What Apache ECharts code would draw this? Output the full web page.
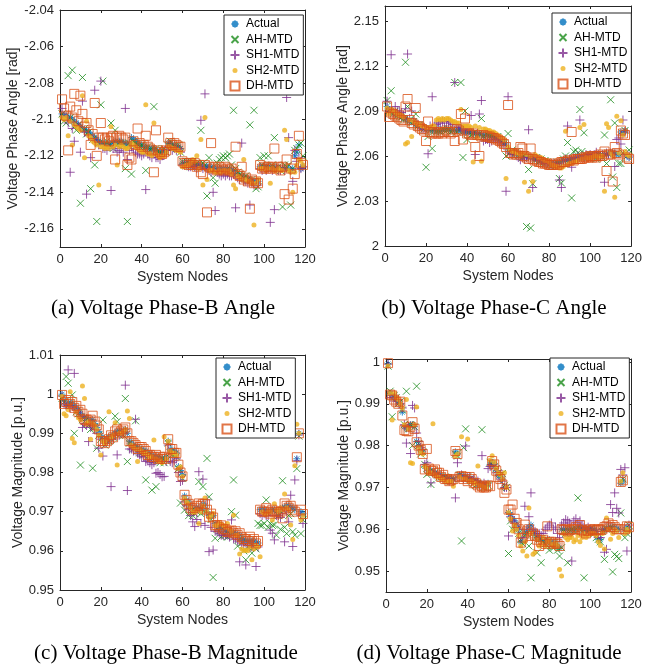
<!DOCTYPE html>
<html>
<head>
<meta charset="utf-8">
<script src="https://cdn.jsdelivr.net/npm/echarts@6/dist/echarts.min.js"></script>
<style>
  html, body { margin: 0; padding: 0; background: #fff; }
  #view1 { width: 645px; height: 667px; }
</style>
</head>
<body>
<div id="view1"></div>
<script>
var nodes = [1,2,3,4,5,6,7,8,9,10,11,12,13,14,15,16,17,18,19,20,
  21,22,23,24,25,26,27,28,29,30,31,32,33,34,35,36,37,38,39,40,
  41,42,43,44,45,46,47,48,49,50,51,52,53,54,55,56,57,58,59,60,
  61,62,63,64,65,66,67,68,69,70,71,72,73,74,75,76,77,78,79,80,
  81,82,83,84,85,86,87,88,89,90,91,92,93,94,95,96,97,98,99,100,
  101,102,103,104,105,106,107,108,109,110,111,112,113,114,115,116,117,118,119];

var names = ["Actual", "AH-MTD", "SH1-MTD", "SH2-MTD", "DH-MTD"];
var xTicks = [0, 20, 40, 60, 80, 100, 120];

// (a) phase-B angle [rad]
var aTicks = [-2.16, -2.14, -2.12, -2.1, -2.08, -2.06, -2.04];
var aActual = [-2.097,-2.098,-2.098,-2.099,-2.099,-2.100,-2.101,-2.102,-2.103,-2.104,
  -2.105,-2.106,-2.106,-2.107,-2.108,-2.109,-2.110,-2.111,-2.112,-2.113,
  -2.113,-2.113,-2.114,-2.113,-2.114,-2.113,-2.112,-2.113,-2.112,-2.112,
  -2.113,-2.113,-2.114,-2.113,-2.110,-2.111,-2.112,-2.113,-2.114,-2.114,
  -2.115,-2.115,-2.116,-2.116,-2.116,-2.116,-2.117,-2.118,-2.118,-2.118,
  -2.118,-2.117,-2.113,-2.113,-2.114,-2.114,-2.115,-2.115,-2.116,-2.124,
  -2.124,-2.124,-2.124,-2.125,-2.124,-2.124,-2.125,-2.125,-2.125,-2.126,
  -2.126,-2.126,-2.126,-2.126,-2.127,-2.127,-2.127,-2.127,-2.127,-2.127,
  -2.127,-2.127,-2.127,-2.128,-2.128,-2.130,-2.130,-2.131,-2.131,-2.132,
  -2.132,-2.133,-2.133,-2.134,-2.134,-2.134,-2.134,-2.126,-2.126,-2.126,
  -2.126,-2.126,-2.126,-2.127,-2.127,-2.126,-2.127,-2.127,-2.127,-2.127,
  -2.127,-2.127,-2.128,-2.127,-2.120,-2.118,-2.114,-2.127,-2.126];
var aAH = [-2.097,-2.101,-2.102,-2.076,-2.099,-2.073,-2.104,-2.106,-2.103,-2.146,
  -2.077,-2.105,-2.108,-2.107,-2.138,-2.111,-2.125,-2.156,-2.113,-2.092,
  -2.079,-2.114,-2.112,-2.114,-2.102,-2.116,-2.106,-2.114,-2.113,-2.113,
  -2.114,-2.127,-2.156,-2.113,-2.130,-2.112,-2.113,-2.114,-2.115,-2.114,
  -2.116,-2.128,-2.115,-2.117,-2.116,-2.093,-2.116,-2.117,-2.119,-2.117,
  -2.116,-2.118,-2.114,-2.112,-2.115,-2.115,-2.116,-2.114,-2.118,-2.123,
  -2.125,-2.123,-2.124,-2.126,-2.123,-2.125,-2.124,-2.126,-2.106,-2.124,
  -2.125,-2.142,-2.121,-2.127,-2.132,-2.135,-2.124,-2.122,-2.121,-2.120,
  -2.121,-2.120,-2.119,-2.125,-2.095,-2.127,-2.129,-2.130,-2.131,-2.132,
  -2.131,-2.133,-2.103,-2.133,-2.095,-2.138,-2.137,-2.121,-2.125,-2.120,
  -2.126,-2.120,-2.127,-2.125,-2.110,-2.127,-2.126,-2.128,-2.148,-2.125,
  -2.126,-2.125,-2.147,-2.127,-2.117,-2.116,-2.114,-2.113,-2.120];
var aSH1 = [-2.094,-2.098,-2.099,-2.102,-2.129,-2.105,-2.112,-2.103,-2.104,-2.118,
  -2.090,-2.107,-2.141,-2.109,-2.121,-2.111,-2.084,-2.112,-2.114,-2.079,
  -2.116,-2.116,-2.117,-2.115,-2.139,-2.116,-2.115,-2.118,-2.117,-2.116,
  -2.118,-2.094,-2.122,-2.117,-2.115,-2.116,-2.118,-2.119,-2.119,-2.120,
  -2.119,-2.1385,-2.119,-2.120,-2.121,-2.119,-2.121,-2.121,-2.122,-2.120,
  -2.119,-2.117,-2.115,-2.115,-2.117,-2.116,-2.117,-2.116,-2.118,-2.125,
  -2.125,-2.125,-2.126,-2.126,-2.125,-2.126,-2.127,-2.126,-2.1005,-2.127,
  -2.086,-2.127,-2.128,-2.129,-2.140,-2.150,-2.129,-2.130,-2.131,-2.130,
  -2.131,-2.130,-2.131,-2.131,-2.130,-2.1485,-2.132,-2.133,-2.113,-2.134,
  -2.134,-2.135,-2.147,-2.135,-2.136,-2.135,-2.136,-2.127,-2.128,-2.127,
  -2.128,-2.127,-2.1565,-2.128,-2.1495,-2.127,-2.128,-2.128,-2.127,-2.128,
  -2.088,-2.110,-2.128,-2.134,-2.117,-2.123,-2.121,-2.127,-2.126];
var aSH2 = [-2.099,-2.100,-2.099,-2.109,-2.101,-2.114,-2.103,-2.104,-2.105,-2.106,
  -2.087,-2.121,-2.101,-2.109,-2.110,-2.112,-2.113,-2.114,-2.136,-2.115,
  -2.115,-2.116,-2.115,-2.116,-2.104,-2.115,-2.114,-2.125,-2.115,-2.114,
  -2.115,-2.116,-2.116,-2.115,-2.113,-2.114,-2.115,-2.116,-2.117,-2.118,
  -2.118,-2.092,-2.119,-2.119,-2.120,-2.102,-2.119,-2.120,-2.121,-2.120,
  -2.120,-2.118,-2.115,-2.115,-2.116,-2.116,-2.117,-2.117,-2.118,-2.126,
  -2.126,-2.125,-2.125,-2.124,-2.122,-2.123,-2.120,-2.127,-2.111,-2.136,
  -2.099,-2.133,-2.128,-2.128,-2.128,-2.129,-2.129,-2.128,-2.129,-2.128,
  -2.128,-2.129,-2.128,-2.130,-2.136,-2.138,-2.131,-2.132,-2.133,-2.122,
  -2.133,-2.134,-2.134,-2.135,-2.158,-2.135,-2.133,-2.127,-2.127,-2.127,
  -2.128,-2.127,-2.135,-2.127,-2.128,-2.128,-2.127,-2.128,-2.128,-2.106,
  -2.111,-2.128,-2.129,-2.140,-2.129,-2.125,-2.122,-2.123,-2.125];
var aDH = [-2.089,-2.094,-2.098,-2.117,-2.093,-2.099,-2.086,-2.095,-2.101,-2.087,
  -2.097,-2.104,-2.102,-2.106,-2.114,-2.108,-2.091,-2.120,-2.110,-2.102,
  -2.110,-2.111,-2.110,-2.112,-2.110,-2.109,-2.122,-2.110,-2.109,-2.110,
  -2.111,-2.110,-2.125,-2.121,-2.122,-2.112,-2.114,-2.105,-2.113,-2.115,
  -2.114,-2.109,-2.115,-2.116,-2.117,-2.129,-2.106,-2.117,-2.118,-2.119,
  -2.118,-2.117,-2.110,-2.113,-2.114,-2.113,-2.114,-2.115,-2.115,-2.123,
  -2.124,-2.124,-2.125,-2.124,-2.125,-2.124,-2.126,-2.125,-2.129,-2.130,
  -2.125,-2.151,-2.126,-2.113,-2.127,-2.126,-2.128,-2.126,-2.127,-2.128,
  -2.126,-2.127,-2.128,-2.127,-2.129,-2.115,-2.130,-2.131,-2.126,-2.133,
  -2.132,-2.134,-2.149,-2.133,-2.135,-2.134,-2.135,-2.125,-2.127,-2.126,
  -2.127,-2.126,-2.127,-2.126,-2.116,-2.127,-2.126,-2.128,-2.126,-2.141,
  -2.122,-2.144,-2.127,-2.138,-2.130,-2.119,-2.109,-2.124,-2.125];

// (b) phase-C angle [rad]
var bTicks = [2, 2.03, 2.06, 2.09, 2.12, 2.15];
var bActual = [2.093,2.091,2.090,2.089,2.088,2.088,2.087,2.086,2.085,2.085,
  2.084,2.083,2.083,2.082,2.081,2.080,2.080,2.079,2.079,2.078,
  2.078,2.078,2.077,2.077,2.077,2.076,2.077,2.077,2.078,2.078,
  2.078,2.077,2.077,2.077,2.077,2.078,2.077,2.076,2.076,2.076,
  2.076,2.076,2.075,2.075,2.075,2.075,2.074,2.074,2.074,2.074,
  2.074,2.073,2.073,2.073,2.072,2.071,2.070,2.069,2.068,2.064,
  2.063,2.063,2.062,2.062,2.061,2.061,2.060,2.060,2.060,2.059,
  2.059,2.059,2.058,2.058,2.057,2.057,2.056,2.056,2.056,2.055,
  2.055,2.055,2.055,2.055,2.056,2.056,2.057,2.057,2.057,2.058,
  2.058,2.058,2.058,2.059,2.059,2.059,2.059,2.060,2.060,2.060,
  2.060,2.060,2.060,2.061,2.060,2.061,2.061,2.061,2.061,2.062,
  2.062,2.062,2.061,2.061,2.076,2.075,2.077,2.060,2.059];
var bAH = [2.097,2.090,2.1035,2.088,2.090,2.087,2.086,2.086,2.084,2.1225,
  2.093,2.084,2.082,2.083,2.088,2.080,2.081,2.079,2.078,2.0525,
  2.073,2.077,2.065,2.078,2.076,2.077,2.076,2.078,2.077,2.077,
  2.078,2.076,2.077,2.109,2.076,2.077,2.109,2.059,2.090,2.071,
  2.076,2.074,2.075,2.076,2.074,2.075,2.085,2.073,2.072,2.074,
  2.073,2.074,2.072,2.072,2.073,2.071,2.069,2.068,2.060,2.075,
  2.062,2.064,2.061,2.063,2.060,2.061,2.059,2.061,2.013,2.051,
  2.012,2.0415,2.057,2.059,2.056,2.058,2.055,2.057,2.056,2.054,
  2.053,2.054,2.053,2.056,2.045,2.042,2.058,2.060,2.069,2.057,
  2.032,2.063,2.064,2.062,2.091,2.063,2.0755,2.061,2.059,2.061,
  2.059,2.060,2.058,2.061,2.061,2.059,2.074,2.055,2.062,2.0975,
  2.046,2.082,2.039,2.055,2.055,2.062,2.077,2.060,2.064];
var bSH1 = [2.0965,2.090,2.1275,2.089,2.093,2.090,2.090,2.089,2.087,2.0915,
  2.128,2.085,2.090,2.083,2.082,2.081,2.080,2.078,2.078,2.078,
  2.0615,2.080,2.0995,2.080,2.081,2.082,2.082,2.083,2.083,2.082,
  2.083,2.082,2.081,2.109,2.080,2.079,2.079,2.078,2.077,2.078,
  2.077,2.087,2.076,2.061,2.075,2.088,2.097,2.070,2.071,2.071,
  2.069,2.070,2.072,2.071,2.070,2.069,2.068,2.067,2.0365,2.0995,
  2.062,2.061,2.062,2.061,2.059,2.0575,2.059,2.058,2.059,2.0775,
  2.058,2.039,2.059,2.057,2.058,2.057,2.056,2.055,2.055,2.055,
  2.054,2.055,2.054,2.055,2.044,2.039,2.057,2.058,2.080,2.058,
  2.0525,2.059,2.058,2.060,2.084,2.060,2.059,2.061,2.060,2.061,
  2.060,2.061,2.0625,2.061,2.060,2.061,2.0425,2.062,2.061,2.062,
  2.061,2.053,2.071,2.072,2.068,2.084,2.076,2.061,2.060];
var bSH2 = [2.092,2.088,2.091,2.090,2.089,2.088,2.087,2.087,2.086,2.068,
  2.069,2.084,2.073,2.083,2.082,2.081,2.081,2.080,2.080,2.079,
  2.079,2.079,2.080,2.080,2.084,2.085,2.084,2.085,2.084,2.085,
  2.085,2.084,2.083,2.083,2.082,2.082,2.091,2.080,2.080,2.080,
  2.080,2.079,2.056,2.080,2.072,2.079,2.0565,2.078,2.078,2.077,
  2.077,2.076,2.076,2.075,2.074,2.073,2.072,2.071,2.045,2.066,
  2.064,2.063,2.063,2.062,2.062,2.061,2.062,2.0425,2.061,2.0365,
  2.060,2.043,2.061,2.060,2.059,2.059,2.058,2.057,2.057,2.056,
  2.054,2.054,2.053,2.053,2.052,2.052,2.053,2.0765,2.054,2.055,
  2.055,2.056,2.056,2.057,2.079,2.058,2.081,2.059,2.058,2.059,
  2.059,2.060,2.060,2.059,2.060,2.060,2.0365,2.0815,2.079,2.062,
  2.060,2.0325,2.0865,2.062,2.0835,2.074,2.063,2.061,2.060];
var bDH = [2.093,2.086,2.089,2.088,2.087,2.086,2.085,2.084,2.083,2.093,
  2.098,2.084,2.082,2.081,2.092,2.080,2.079,2.078,2.077,2.070,
  2.083,2.076,2.075,2.076,2.075,2.075,2.076,2.075,2.076,2.077,
  2.076,2.075,2.076,2.070,2.078,2.077,2.088,2.071,2.085,2.075,
  2.075,2.074,2.075,2.066,2.074,2.060,2.073,2.074,2.073,2.073,
  2.073,2.072,2.072,2.071,2.071,2.070,2.069,2.068,2.066,2.094,
  2.062,2.062,2.061,2.061,2.062,2.066,2.065,2.060,2.059,2.058,
  2.065,2.058,2.057,2.057,2.056,2.056,2.055,2.055,2.055,2.054,
  2.054,2.054,2.055,2.054,2.055,2.056,2.056,2.056,2.057,2.057,
  2.076,2.057,2.058,2.058,2.058,2.058,2.059,2.059,2.059,2.060,
  2.059,2.060,2.059,2.060,2.061,2.060,2.063,2.050,2.061,2.061,
  2.043,2.066,2.062,2.061,2.077,2.075,2.074,2.059,2.058];

// (c) phase-B magnitude [p.u.]
var cTicks = [0.95, 0.96, 0.97, 0.98, 0.99, 1, 1.01];
var cActual = [1.0000,0.9985,0.9975,0.9970,0.9980,0.9975,0.9970,0.9965,0.9960,0.9950,
  0.9945,0.9940,0.9940,0.9935,0.9930,0.9935,0.9925,0.9915,0.9905,0.9895,
  0.9885,0.9880,0.9885,0.9890,0.9890,0.9895,0.9900,0.9905,0.9905,0.9905,
  0.9905,0.9910,0.9900,0.9880,0.9875,0.9870,0.9865,0.9865,0.9860,0.9860,
  0.9855,0.9855,0.9850,0.9845,0.9845,0.9840,0.9840,0.9840,0.9835,0.9835,
  0.9835,0.9840,0.9880,0.9860,0.9855,0.9855,0.9850,0.9815,0.9805,0.9795,
  0.9740,0.9730,0.9725,0.9715,0.9705,0.9705,0.9710,0.9710,0.9705,0.9720,
  0.9715,0.9700,0.9690,0.9690,0.9690,0.9670,0.9665,0.9660,0.9660,0.9655,
  0.9650,0.9650,0.9650,0.9650,0.9645,0.9645,0.9640,0.9640,0.9630,0.9630,
  0.9625,0.9625,0.9625,0.9625,0.9625,0.9620,0.9620,0.9705,0.9705,0.9705,
  0.9700,0.9700,0.9700,0.9705,0.9705,0.9700,0.9700,0.9700,0.9710,0.9710,
  0.9715,0.9715,0.9710,0.9710,0.9705,0.9835,0.9900,0.9700,0.9695];
var cAH = [0.9989,0.9980,1.0045,1.0028,0.9975,0.9998,0.9900,0.9955,0.9950,0.9819,
  0.9935,0.9930,0.9925,0.9920,0.9910,0.9811,0.9915,0.9862,0.9895,0.9885,
  0.9934,0.9870,0.9879,0.9880,0.9885,0.9890,0.9944,0.9930,0.9895,0.9900,
  0.9895,0.9989,0.9828,0.9875,0.9865,0.9860,0.9932,0.9855,0.9850,0.9850,
  0.9845,0.9781,0.9840,0.9835,0.9755,0.9830,0.9764,0.9830,0.9825,0.9836,
  0.9825,0.9830,0.9875,0.9850,0.9845,0.9845,0.9840,0.9810,0.9722,0.9785,
  0.9704,0.9720,0.9690,0.9700,0.9690,0.9695,0.9700,0.9777,0.9695,0.9764,
  0.9700,0.9836,0.9738,0.9680,0.9532,0.9632,0.9655,0.9650,0.9636,0.9640,
  0.9640,0.9635,0.9640,0.9700,0.9781,0.9691,0.9612,0.9630,0.9620,0.9600,
  0.9577,0.9610,0.9610,0.9594,0.9610,0.9605,0.9670,0.9665,0.9665,0.9670,
  0.9730,0.9660,0.9670,0.9665,0.9666,0.9640,0.9690,0.9655,0.9779,0.9660,
  0.9644,0.9690,0.9695,0.9649,0.9640,0.9810,0.9893,0.9644,0.9679];
var cSH1 = [0.9995,0.9975,0.9970,1.0062,0.9965,0.9970,1.0053,0.9960,0.9955,0.9943,
  0.9915,0.9925,0.9920,0.9879,0.9915,0.9920,0.9910,0.9900,0.9862,0.9885,
  0.9842,0.9875,0.9880,0.9885,0.9764,0.9885,0.9895,0.9845,0.9895,0.9900,
  0.9900,1.0023,0.9754,0.9860,0.9860,0.9855,0.9936,0.9850,0.9845,0.9840,
  0.9840,0.9828,0.9830,0.9825,0.9820,0.9825,0.9798,0.9800,0.9795,0.9789,
  0.9790,0.9828,0.9870,0.9828,0.9825,0.9830,0.9835,0.9800,0.9777,0.9780,
  0.9725,0.9715,0.9705,0.9690,0.9674,0.9662,0.9680,0.9802,0.9670,0.9783,
  0.9665,0.9730,0.9598,0.9660,0.9602,0.9650,0.9650,0.9645,0.9640,0.9640,
  0.9640,0.9640,0.9635,0.9679,0.9630,0.9630,0.9625,0.9572,0.9620,0.9615,
  0.9564,0.9615,0.9610,0.9610,0.9610,0.9560,0.9610,0.9695,0.9690,0.9695,
  0.9690,0.9690,0.9653,0.9645,0.9628,0.9690,0.9690,0.9685,0.9695,0.9623,
  0.9700,0.9674,0.9742,0.9611,0.9781,0.9830,0.9896,0.9690,0.9670];
var cSH2 = [0.9995,0.9950,0.9945,0.9960,1.0006,0.9887,0.9876,0.9955,0.9940,0.9935,
  1.0021,0.9989,0.9925,0.9930,0.9885,0.9925,0.9920,0.9910,0.9895,0.9845,
  0.9880,0.9875,0.9885,0.9955,0.9890,0.9895,0.9927,0.9819,0.9900,0.9900,
  0.9905,0.9910,0.9957,0.9938,0.9870,0.9865,0.9860,0.9828,0.9860,0.9855,
  0.9850,0.9850,0.9845,0.9840,0.9840,0.9883,0.9835,0.9830,0.9830,0.9825,
  0.9891,0.9835,0.9880,0.9855,0.9850,0.9850,0.9845,0.9810,0.9815,0.9790,
  0.9735,0.9725,0.9720,0.9710,0.9700,0.9700,0.9705,0.9670,0.9700,0.9715,
  0.9735,0.9700,0.9685,0.9690,0.9696,0.9665,0.9665,0.9670,0.9668,0.9665,
  0.9660,0.9670,0.9655,0.9650,0.9691,0.9640,0.9640,0.9592,0.9605,0.9600,
  0.9602,0.9600,0.9610,0.9577,0.9605,0.9615,0.9610,0.9585,0.9700,0.9695,
  0.9695,0.9700,0.9700,0.9679,0.9720,0.9705,0.9700,0.9710,0.9705,0.9745,
  0.9710,0.9705,0.9666,0.9629,0.9817,0.9923,0.9900,0.9679,0.9690];
var cDH = [0.9998,0.9975,0.9980,0.9985,0.9975,0.9980,0.9965,0.9970,0.9955,0.9960,
  0.9950,0.9935,0.9935,0.9930,0.9935,0.9945,0.9930,0.9920,0.9910,0.9880,
  0.9880,0.9875,0.9880,0.9885,0.9895,0.9890,0.9905,0.9910,0.9900,0.9905,
  0.9910,0.9915,0.9900,0.9880,0.9880,0.9875,0.9870,0.9860,0.9865,0.9865,
  0.9860,0.9855,0.9845,0.9845,0.9840,0.9840,0.9845,0.9835,0.9840,0.9835,
  0.9840,0.9835,0.9885,0.9860,0.9860,0.9850,0.9850,0.9820,0.9800,0.9790,
  0.9743,0.9730,0.9720,0.9710,0.9705,0.9710,0.9715,0.9721,0.9715,0.9720,
  0.9720,0.9705,0.9687,0.9695,0.9685,0.9665,0.9666,0.9660,0.9665,0.9655,
  0.9655,0.9648,0.9650,0.9652,0.9645,0.9650,0.9640,0.9645,0.9635,0.9630,
  0.9630,0.9625,0.9636,0.9625,0.9630,0.9619,0.9625,0.9705,0.9700,0.9700,
  0.9709,0.9700,0.9695,0.9705,0.9700,0.9700,0.9695,0.9700,0.9683,0.9721,
  0.9715,0.9710,0.9715,0.9705,0.9700,0.9839,0.9900,0.9705,0.9694];

// (d) phase-C magnitude [p.u.]
var dTicks = [0.95, 0.96, 0.97, 0.98, 0.99, 1];
var dActual = [0.9995,0.9925,0.9920,0.9915,0.9910,0.9905,0.9900,0.9880,0.9845,0.9840,
  0.9845,0.9850,0.9850,0.9845,0.9810,0.9800,0.9790,0.9785,0.9750,0.9745,
  0.9740,0.9740,0.9735,0.9735,0.9730,0.9730,0.9725,0.9725,0.9725,0.9720,
  0.9720,0.9720,0.9720,0.9785,0.9780,0.9730,0.9730,0.9725,0.9725,0.9720,
  0.9720,0.9720,0.9715,0.9715,0.9710,0.9710,0.9705,0.9705,0.9705,0.9710,
  0.9755,0.9760,0.9755,0.9740,0.9730,0.9725,0.9720,0.9700,0.9700,0.9640,
  0.9635,0.9625,0.9620,0.9610,0.9600,0.9570,0.9570,0.9590,0.9595,0.9605,
  0.9610,0.9595,0.9590,0.9580,0.9580,0.9575,0.9575,0.9570,0.9575,0.9575,
  0.9570,0.9565,0.9570,0.9560,0.9555,0.9600,0.9600,0.9600,0.9600,0.9600,
  0.9600,0.9600,0.9600,0.9605,0.9605,0.9600,0.9600,0.9595,0.9600,0.9600,
  0.9600,0.9600,0.9595,0.9575,0.9575,0.9600,0.9600,0.9600,0.9605,0.9605,
  0.9605,0.9605,0.9600,0.9600,0.9710,0.9715,0.9600,0.9605,0.9600];
var dAH = [0.9990,0.9930,0.9869,0.9920,0.9915,0.9900,0.9905,0.9885,0.9850,0.9930,
  0.9840,0.9850,0.9800,0.9845,0.9942,0.9805,0.9780,0.9785,0.9755,0.9731,
  0.9735,0.9707,0.9740,0.9735,0.9730,0.9725,0.9725,0.9720,0.9725,0.9720,
  0.9715,0.9715,0.9720,0.9780,0.9775,0.9730,0.9572,0.9795,0.9840,0.9725,
  0.9720,0.9715,0.9710,0.9705,0.9710,0.9705,0.9838,0.9700,0.9700,0.9705,
  0.9760,0.9755,0.9750,0.9745,0.9735,0.9730,0.9733,0.9705,0.9700,0.9542,
  0.9620,0.9600,0.9610,0.9600,0.9590,0.9575,0.9565,0.9585,0.9590,0.9560,
  0.9484,0.9590,0.9580,0.9544,0.9575,0.9520,0.9570,0.9565,0.9560,0.9550,
  0.9560,0.9555,0.9560,0.9550,0.9536,0.9556,0.9595,0.9590,0.9520,0.9595,
  0.9600,0.9595,0.9600,0.9675,0.9600,0.9595,0.9484,0.9600,0.9595,0.9600,
  0.9595,0.9590,0.9580,0.9576,0.9570,0.9595,0.9528,0.9600,0.9600,0.9605,
  0.9498,0.9540,0.9535,0.9530,0.9639,0.9720,0.9580,0.9590,0.9610];
var dSH1 = [0.9995,0.9915,0.9920,0.9915,0.9906,0.9910,0.9900,0.9890,0.9850,0.9806,
  0.9845,0.9781,0.9896,0.9890,0.9830,0.9810,0.9795,0.9790,0.9755,0.9759,
  0.9740,0.9711,0.9735,0.9730,0.9730,0.9725,0.9730,0.9720,0.9720,0.9720,
  0.9715,0.9720,0.9715,0.9675,0.9759,0.9725,0.9730,0.9720,0.9799,0.9725,
  0.9725,0.9715,0.9720,0.9710,0.9715,0.9705,0.9776,0.9710,0.9705,0.9745,
  0.9750,0.9755,0.9750,0.9735,0.9740,0.9720,0.9715,0.9700,0.9700,0.9584,
  0.9630,0.9620,0.9615,0.9605,0.9600,0.9580,0.9580,0.9655,0.9600,0.9630,
  0.9687,0.9600,0.9595,0.9590,0.9590,0.9585,0.9590,0.9600,0.9605,0.9610,
  0.9615,0.9600,0.9605,0.9590,0.9580,0.9610,0.9615,0.9623,0.9620,0.9615,
  0.9524,0.9620,0.9625,0.9615,0.9620,0.9610,0.9605,0.9600,0.9605,0.9600,
  0.9595,0.9590,0.9595,0.9580,0.9580,0.9600,0.9545,0.9552,0.9615,0.9659,
  0.9640,0.9687,0.9650,0.9639,0.9743,0.9730,0.9747,0.9548,0.9610];
var dSH2 = [0.9990,0.9925,0.9861,0.9925,0.9915,0.9910,0.9900,0.9890,0.9850,0.9910,
  0.9840,0.9759,0.9757,0.9850,0.9892,0.9795,0.9785,0.9780,0.9750,0.9745,
  0.9735,0.9735,0.9852,0.9730,0.9725,0.9725,0.9720,0.9720,0.9715,0.9715,
  0.9715,0.9715,0.9703,0.9775,0.9780,0.9725,0.9821,0.9720,0.9720,0.9816,
  0.9715,0.9715,0.9710,0.9710,0.9751,0.9705,0.9705,0.9700,0.9700,0.9710,
  0.9765,0.9776,0.9760,0.9745,0.9735,0.9730,0.9720,0.9735,0.9700,0.9640,
  0.9625,0.9596,0.9610,0.9600,0.9585,0.9560,0.9548,0.9570,0.9536,0.9651,
  0.9590,0.9540,0.9545,0.9575,0.9560,0.9565,0.9580,0.9560,0.9570,0.9575,
  0.9565,0.9560,0.9568,0.9560,0.9504,0.9488,0.9590,0.9580,0.9575,0.9580,
  0.9580,0.9570,0.9575,0.9585,0.9570,0.9580,0.9590,0.9580,0.9585,0.9590,
  0.9590,0.9590,0.9585,0.9570,0.9561,0.9590,0.9553,0.9627,0.9600,0.9576,
  0.9590,0.9600,0.9595,0.9580,0.9715,0.9735,0.9590,0.9600,0.9595];
var dDH = [0.9997,0.9922,0.9920,0.9910,0.9905,0.9900,0.9905,0.9872,0.9837,0.9835,
  0.9834,0.9845,0.9856,0.9840,0.9808,0.9800,0.9790,0.9780,0.9743,0.9792,
  0.9745,0.9740,0.9740,0.9743,0.9735,0.9735,0.9725,0.9730,0.9720,0.9720,
  0.9715,0.9718,0.9720,0.9787,0.9780,0.9725,0.9727,0.9720,0.9725,0.9715,
  0.9725,0.9720,0.9710,0.9710,0.9705,0.9700,0.9703,0.9700,0.9700,0.9705,
  0.9703,0.9763,0.9755,0.9740,0.9725,0.9720,0.9707,0.9687,0.9695,0.9647,
  0.9647,0.9659,0.9625,0.9615,0.9600,0.9568,0.9580,0.9611,0.9595,0.9600,
  0.9584,0.9590,0.9585,0.9575,0.9560,0.9570,0.9575,0.9565,0.9607,0.9570,
  0.9570,0.9565,0.9568,0.9565,0.9560,0.9600,0.9598,0.9600,0.9595,0.9598,
  0.9600,0.9600,0.9605,0.9600,0.9610,0.9598,0.9595,0.9590,0.9596,0.9600,
  0.9598,0.9600,0.9597,0.9600,0.9598,0.9600,0.9605,0.9607,0.9614,0.9605,
  0.9610,0.9605,0.9600,0.9600,0.9713,0.9717,0.9600,0.9607,0.9605];

var axisColor = "#262626";
var sansFont = "Liberation Sans";

// marker look per method, same order as names
var markers = [
  { symbol: "path://M5 0V10M0 5H10M1.5 1.5L8.5 8.5M8.5 1.5L1.5 8.5", symbolSize: 7,
    itemStyle: { color: "rgba(0,0,0,0)", borderColor: "#0072BD", borderWidth: 1 } },
  { symbol: "path://M0 0L10 10M10 0L0 10", symbolSize: 7,
    itemStyle: { color: "rgba(0,0,0,0)", borderColor: "#1c8c1c", borderWidth: 1 } },
  { symbol: "path://M5 0V10M0 5H10", symbolSize: 9,
    itemStyle: { color: "rgba(0,0,0,0)", borderColor: "#7E2F8E", borderWidth: 1 } },
  { symbol: "circle", symbolSize: 5,
    itemStyle: { color: "#EDB120", borderWidth: 0 } },
  { symbol: "rect", symbolSize: 9,
    itemStyle: { color: "rgba(0,0,0,0)", borderColor: "#D95319", borderWidth: 1 } }
];

// legend icons: the leading moves pin a 10x10 box so the marks keep their plot size
var legendIcons = [
  "path://M0 0M10 10M5 1.5V8.5M1.5 5H8.5M2.5 2.5L7.5 7.5M7.5 2.5L2.5 7.5",
  "path://M0 0M10 10M1.5 1.5L8.5 8.5M8.5 1.5L1.5 8.5",
  "path://M0 0M10 10M5 0.5V9.5M0.5 5H9.5",
  "path://M0 0M10 10M2.5 5A2.5 2.5 0 1 1 7.5 5A2.5 2.5 0 1 1 2.5 5Z",
  "path://M0 0M10 10M0.5 0.5H9.5V9.5H0.5Z"
];

var panels = [
  { grid: { left: 60, top: 10, width: 245, height: 237 }, min: -2.17, max: -2.04, ticks: aTicks,
    yName: "Voltage Phase Angle [rad]", nameGap: 32, series: [aActual, aAH, aSH1, aSH2, aDH],
    legend: { left: 224, top: 15 }, caption: "(a) Voltage Phase-B Angle", cx: 163, cy: 308 },
  { grid: { left: 385, top: 6, width: 248, height: 240 }, min: 2, max: 2.16, ticks: bTicks,
    yName: "Voltage Phase Angle [rad]", nameGap: 27, series: [bActual, bAH, bSH1, bSH2, bDH],
    legend: { left: 552, top: 13 }, caption: "(b) Voltage Phase-C Angle", cx: 494, cy: 308 },
  { grid: { left: 60, top: 355, width: 245, height: 235 }, min: 0.95, max: 1.01, ticks: cTicks,
    yName: "Voltage Magnitude [p.u.]", nameGap: 34, series: [cActual, cAH, cSH1, cSH2, cDH],
    legend: { left: 216, top: 358 }, caption: "(c) Voltage Phase-B Magnitude", cx: 166, cy: 653 },
  { grid: { left: 386, top: 359, width: 245, height: 233 }, min: 0.945, max: 1.0007, ticks: dTicks,
    yName: "Voltage Magnitude [p.u.]", nameGap: 33, series: [dActual, dAH, dSH1, dSH2, dDH],
    legend: { left: 550, top: 358 }, caption: "(d) Voltage Phase-C Magnitude", cx: 489, cy: 653 }
];

var grid = [], xAxis = [], yAxis = [], series = [], legend = [], graphic = [];

panels.forEach(function (p, i) {
  grid.push(p.grid);
  // bottom + mirrored top
  xAxis.push({
    gridIndex: i, type: "value", min: 0, max: 120, position: "bottom",
    name: "System Nodes", nameLocation: "middle", nameGap: 23,
    nameTextStyle: { color: axisColor, fontSize: 14, fontFamily: sansFont },
    axisLine: { onZero: false, lineStyle: { color: axisColor, width: 1 } },
    axisTick: { inside: true, length: 3, lineStyle: { color: axisColor }, customValues: xTicks },
    axisLabel: { color: axisColor, fontSize: 13, fontFamily: sansFont, margin: 6, customValues: xTicks },
    splitLine: { show: false }
  });
  xAxis.push({
    gridIndex: i, type: "value", min: 0, max: 120, position: "top",
    axisLine: { onZero: false, lineStyle: { color: axisColor, width: 1 } },
    axisTick: { inside: true, length: 3, lineStyle: { color: axisColor }, customValues: xTicks },
    axisLabel: { show: false },
    splitLine: { show: false }
  });
  yAxis.push({
    gridIndex: i, type: "value", min: p.min, max: p.max, position: "left",
    name: p.yName, nameLocation: "middle", nameGap: p.nameGap,
    nameTextStyle: { color: axisColor, fontSize: 14, fontFamily: sansFont },
    axisLine: { onZero: false, lineStyle: { color: axisColor, width: 1 } },
    axisTick: { inside: true, length: 3, lineStyle: { color: axisColor }, customValues: p.ticks },
    axisLabel: { color: axisColor, fontSize: 13, fontFamily: sansFont, margin: 6, customValues: p.ticks },
    splitLine: { show: false }
  });
  yAxis.push({
    gridIndex: i, type: "value", min: p.min, max: p.max, position: "right",
    axisLine: { onZero: false, lineStyle: { color: axisColor, width: 1 } },
    axisTick: { inside: true, length: 3, lineStyle: { color: axisColor }, customValues: p.ticks },
    axisLabel: { show: false },
    splitLine: { show: false }
  });

  p.series.forEach(function (vals, k) {
    series.push({
      name: names[k],
      type: "scatter",
      xAxisIndex: 2 * i,
      yAxisIndex: 2 * i,
      symbol: markers[k].symbol,
      symbolSize: markers[k].symbolSize,
      itemStyle: markers[k].itemStyle,
      emphasis: { disabled: true },
      data: vals.map(function (v, j) { return [nodes[j], v]; })
    });
  });

  legend.push({
    data: names.map(function (n, k) { return { name: n, icon: legendIcons[k] }; }),
    orient: "vertical",
    left: p.legend.left,
    top: p.legend.top,
    padding: [3, 4, 3, 5],
    itemWidth: 10,
    itemHeight: 10,
    itemGap: 3.5,
    backgroundColor: "#fff",
    borderColor: axisColor,
    borderWidth: 1,
    borderRadius: 0,
    selectedMode: false,
    textStyle: { color: "#000", fontSize: 12, fontFamily: sansFont, padding: [0, 0, 0, 1] }
  });

  graphic.push({
    type: "text", x: p.cx, y: p.cy,
    style: {
      text: p.caption, fill: "#000",
      font: '21px "Liberation Serif"',
      align: "center", verticalAlign: "middle",
      textAlign: "center", textVerticalAlign: "middle"
    }
  });
});

var option = {
  animation: false,
  backgroundColor: "#fff",
  grid: grid,
  xAxis: xAxis,
  yAxis: yAxis,
  legend: legend,
  graphic: graphic,
  series: series
};

echarts.init(document.getElementById("view1")).setOption(option);
</script>
</body>
</html>
